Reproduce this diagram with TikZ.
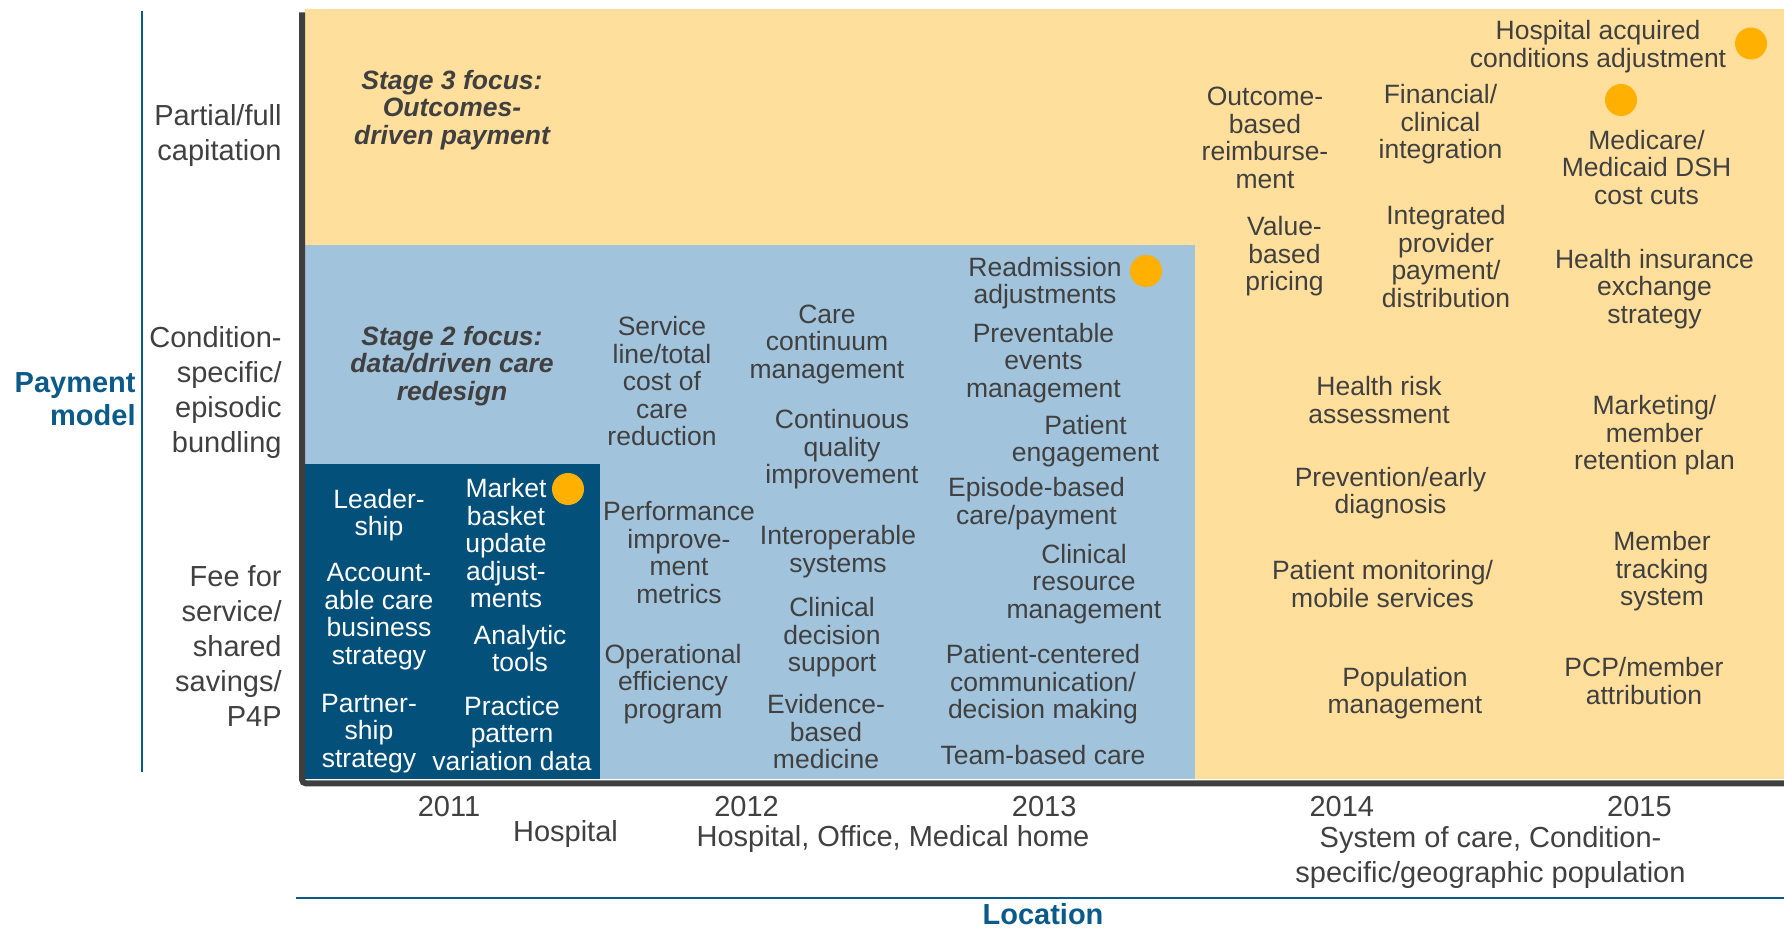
\documentclass[tikz,border=0pt]{standalone}
\usepackage{fontspec}
\setmainfont{Liberation Sans}
\usetikzlibrary{positioning}
\definecolor{capyellow}{HTML}{FFDF9B}
\definecolor{bundleblue}{HTML}{A1C3DB}
\definecolor{feenavy}{HTML}{03507A}
\definecolor{axisgray}{HTML}{3F3F3F}
\definecolor{labelblue}{HTML}{0B5A8A}
\definecolor{txtgray}{HTML}{404040}
\definecolor{dotorange}{HTML}{FFB000}

\begin{document}
\begin{tikzpicture}[x=0.5pt,y=-0.5pt,
  every node/.style={font=\fontsize{13.25}{13.75}\selectfont,text=txtgray,align=center,inner sep=0pt,yshift=-1.2pt},
  itw/.style={text=white},
  stage/.style={font=\fontsize{13.25}{13.75}\selectfont\bfseries\itshape},
  ax/.style={font=\fontsize{14.5}{17.5}\selectfont,align=right,anchor=east},
  loc/.style={font=\fontsize{14.5}{17.25}\selectfont},
  ttl/.style={font=\fontsize{14.5}{16.5}\selectfont\bfseries,text=labelblue},
  dot/.style={circle,fill=dotorange,minimum size=16pt,yshift=1.2pt}]
\useasboundingbox (0,0) rectangle (1784,930);
% stage areas
\fill[capyellow] (305,9) rectangle (1784,779);
\fill[bundleblue] (305,245) rectangle (1195,779);
\fill[feenavy] (305,464) rectangle (600,779);
% axes
\coordinate (axtop) at (302,10);
\coordinate (axorig) at (302,781);
\coordinate (axright) at (1784,781);
\draw[axisgray,line width=3pt,rounded corners=2pt] (axtop) -- (axorig) -- (axright);
\coordinate (paytop) at (142,9);
\coordinate (paybot) at (142,770);
\coordinate (locleft) at (296,895.7);
\coordinate (locright) at (1784,895.7);
\draw[labelblue,line width=1pt] (paytop) -- (paybot);
\draw[labelblue,line width=1pt] (locleft) -- (locright);
% axis labels
\node[ttl,align=right,anchor=east] (paymodel) at (136,396.5) {Payment\\model};
\node[ax] (capit) at (282,133) {Partial/full\\capitation};
\node[ax] (bundl) at (282,390) {Condition-\\specific/\\episodic\\bundling};
\node[ax] (feefor) at (282,644) {Fee for\\service/\\shared\\savings/\\P4P};
\foreach \yr [count=\i from 0] in {2011,...,2015}
  \node[loc] (y\yr) at ({449+297.6*\i},804) {\yr};
\node[loc] (lhosp) at (565.5,832) {Hospital};
\node[loc] (loffice) at (893,837) {Hospital, Office, Medical home};
\node[loc] (lsystem) at (1490.5,855) {System of care, Condition-\\specific/geographic population};
\node[ttl] (location) at (1043,912) {Location};
% stage headings
\node[stage] (stage3) at (452,107.5) {Stage 3 focus:\\Outcomes-\\driven payment};
\node[stage] (stage2) at (452,363.5) {Stage 2 focus:\\data/driven care\\redesign};
% fee for service
\node[itw] (leader) at (379,512.5) {Leader-\\ship};
\node[itw] (account) at (379,614) {Account-\\able care\\business\\strategy};
\node[itw] (partner) at (369,731) {Partner-\\ship\\strategy};
\node[itw] (market) at (506,541) {Market\\basket\\update\\adjust-\\ments};
\node[dot] (dmarket) at (568,489) {};
\node[itw] (analytic) at (520,646) {Analytic\\tools};
\node[itw] (practice) at (512,731) {Practice\\pattern\\variation data};
% bundling
\node (service) at (662,379) {Service\\line/total\\cost of\\care\\reduction};
\node (continuum) at (827,342) {Care\\continuum\\management};
\node (quality) at (842,447) {Continuous\\quality\\improvement};
\node (perform) at (679,550) {Performance\\improve-\\ment\\metrics};
\node (interop) at (838,549) {Interoperable\\systems};
\node (decision) at (832,635) {Clinical\\decision\\support};
\node (operat) at (673,681.5) {Operational\\efficiency\\program};
\node (evidence) at (826,729.5) {Evidence-\\based\\medicine};
\node (readm) at (1045,281) {Readmission\\adjustments};
\node[dot] (dreadm) at (1146,271) {};
\node (prevent) at (1043.5,360.5) {Preventable\\events\\management};
\node (engage) at (1085.5,438.5) {Patient\\engagement};
\node (episode) at (1036.5,501) {Episode-based\\care/payment};
\node (resource) at (1084,581.5) {Clinical\\resource\\management};
\node (centered) at (1043,682) {Patient-centered\\communication/\\decision making};
\node (team) at (1043,753) {Team-based care};
% capitation
\node (hac) at (1598,44.5) {Hospital acquired\\conditions adjustment};
\node[dot] (dhac) at (1751,43.5) {};
\node[dot] (ddsh) at (1621,100) {};
\node (outcome) at (1265,135.5) {Outcome-\\based\\reimburse-\\ment};
\node (financial) at (1440.5,122) {Financial/\\clinical\\integration};
\node (dsh) at (1646.5,165) {Medicare/\\Medicaid DSH\\cost cuts};
\node (value) at (1284.5,254) {Value-\\based\\pricing};
\node (integr) at (1446,254) {Integrated\\provider\\payment/\\distribution};
\node (exchange) at (1654.5,286.5) {Health insurance\\exchange\\strategy};
\node (hra) at (1379,397.5) {Health risk\\assessment};
\node (retention) at (1654.5,433) {Marketing/\\member\\retention plan};
\node (prevention) at (1390.5,490.5) {Prevention/early\\diagnosis};
\node (tracking) at (1662,569) {Member\\tracking\\system};
\node (monitor) at (1382.5,581.5) {Patient monitoring/\\mobile services};
\node (pcp) at (1644,678.5) {PCP/member\\attribution};
\node (popul) at (1405,690.5) {Population\\management};
\end{tikzpicture}
\end{document}
